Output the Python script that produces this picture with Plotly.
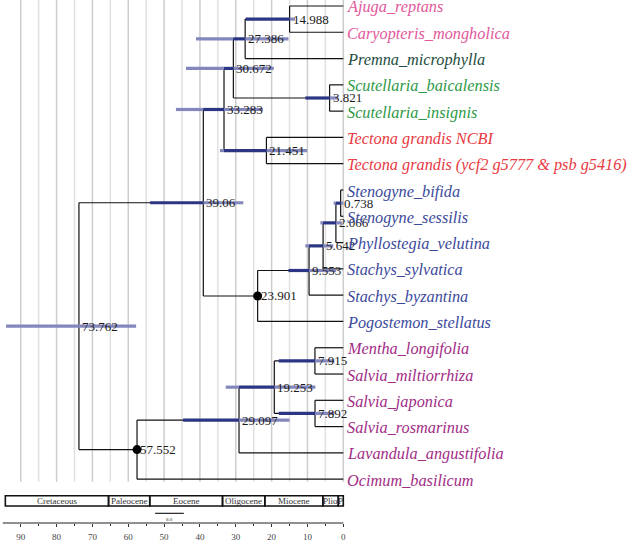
import plotly.graph_objects as go

# ---------------- data ----------------
tips = ["Ajuga_reptans", "Caryopteris_mongholica", "Premna_microphylla",
        "Scutellaria_baicalensis", "Scutellaria_insignis", "Tectona grandis NCBI",
        "Tectona grandis (ycf2 g5777 & psb g5416)", "Stenogyne_bifida",
        "Stenogyne_sessilis", "Phyllostegia_velutina", "Stachys_sylvatica",
        "Stachys_byzantina", "Pogostemon_stellatus", "Mentha_longifolia",
        "Salvia_miltiorrhiza", "Salvia_japonica", "Salvia_rosmarinus",
        "Lavandula_angustifolia", "Ocimum_basilicum"]
PINK, TEAL, GREEN, RED, BLUE, PURPLE = "#e2579b", "#1e4d40", "#2e9a48", "#e8393f", "#3c4a9c", "#a22d85"
tip_colors = [PINK, PINK, TEAL, GREEN, GREEN, RED, RED,
              BLUE, BLUE, BLUE, BLUE, BLUE, BLUE,
              PURPLE, PURPLE, PURPLE, PURPLE, PURPLE, PURPLE]

node_labels = ["14.988", "27.386", "3.821", "30.672", "21.451", "33.283", "0.738", "2.066",
               "5.642", "9.553", "23.901", "39.06", "7.915", "7.892", "19.253", "29.097",
               "57.552", "73.762"]
node_ages = [14.988, 27.386, 3.821, 30.672, 21.451, 33.283, 0.738, 2.066,
             5.642, 9.553, 23.901, 39.06, 7.915, 7.892, 19.253, 29.097,
             57.552, 73.762]
node_children = [("t0", "t1"), ("n0", "t2"), ("t3", "t4"), ("n1", "n2"), ("t5", "t6"),
                 ("n3", "n4"), ("t7", "t8"), ("n6", "t9"), ("n7", "t10"), ("n8", "t11"),
                 ("n9", "t12"), ("n5", "n10"), ("t13", "t14"), ("t15", "t16"),
                 ("n12", "n13"), ("n14", "t17"), ("n15", "t18"), ("n11", "n16")]
hpd_old = [27.2, 41.1, 10.6, 43.9, 34.4, 46.7, 2.7, 6.4, 10.6, 15.3, None, 53.9,
           18.0, 18.0, 32.8, 44.7, None, 94.1]
hpd_young = [13.5, 15.3, 1.5, 19.4, 10.1, 22.4, 0.0, 0.4, 2.8, 2.0, None, 27.9,
             2.5, 2.5, 7.8, 15.0, None, 57.8]
dot_nodes = ["n10", "n16"]

period_names = ["Cretaceous", "Paleocene", "Eocene", "Oligocene", "Miocene", "Plio", "P"]
period_old = [94.3, 65.5, 54.0, 33.7, 21.9, 5.7, 1.4]
period_young = [65.5, 54.0, 33.7, 21.9, 5.7, 1.4, 0.0]

tick_vals = [90, 80, 70, 60, 50, 40, 30, 20, 10, 0]
tick_text = ["90", "80", "70", "60", "50", "40", "30", "20", "10", "0"]
minor_vals = [85, 75, 65, 55, 45, 35, 25, 15, 5]
grid_major = [90, 80, 70, 60, 50, 40, 30, 20, 10, 0]
grid_minor = [85, 75, 65, 55, 45, 35, 25, 15, 5]
scale_bar = [52.5, 44.5]
scale_label = "8.0"

# ---------------- geometry helpers ----------------
TOP_PX, TIP_STEP = 6.0, 26.39
PLOT_H = 525
y_bottom = (PLOT_H - TOP_PX) / TIP_STEP
y_top = -TOP_PX / TIP_STEP

pos = {}
for i in range(len(tips)):
    pos["t%d" % i] = (0.0, float(i))
parent = {}
for k, ch in enumerate(node_children):
    for c in ch:
        parent[c] = k


def node_pos(k):
    key = "n%d" % k
    if key in pos:
        return pos[key]
    ys = []
    for c in node_children[k]:
        if c not in pos:
            node_pos(int(c[1:]))
        ys.append(pos[c][1])
    pos[key] = (node_ages[k], sum(ys) / 2.0)
    return pos[key]


for k in range(len(node_ages)):
    node_pos(k)

fig = go.Figure()

# grid lines
grid_bottom = 18.1
for vals, col in ((grid_minor, "#e0e0e0"), (grid_major, "#cdcdcd")):
    gx, gy = [], []
    for v in vals:
        gx += [v, v, None]
        gy += [y_top, grid_bottom, None]
    fig.add_trace(go.Scatter(x=gx, y=gy, mode="lines", line=dict(color=col, width=1.5),
                             hoverinfo="skip", showlegend=False))

# branches
bx, by = [], []
for k, (c1, c2) in enumerate(node_children):
    nx, ny = pos["n%d" % k]
    y1, y2 = pos[c1][1], pos[c2][1]
    bx += [nx, nx, None]
    by += [y1, y2, None]
    for c in (c1, c2):
        cx, cy = pos[c]
        bx += [nx, cx, None]
        by += [cy, cy, None]
fig.add_trace(go.Scatter(x=bx, y=by, mode="lines", line=dict(color="#111111", width=1.2),
                         hoverinfo="skip", showlegend=False))

# HPD bars: light where over background, dark where over the incoming branch
lx, ly, dx, dy = [], [], [], []
for k in range(len(node_ages)):
    if hpd_old[k] is None:
        continue
    key = "n%d" % k
    ny = pos[key][1]
    old, young = hpd_old[k], hpd_young[k]
    if key in parent:
        pa = node_ages[parent[key]]
        lo, hi = max(young, node_ages[k]), min(old, pa)
    else:
        lo, hi = 0, -1
    if hi > lo:
        dx += [hi, lo, None]
        dy += [ny, ny, None]
        if old > hi:
            lx += [old, hi, None]
            ly += [ny, ny, None]
        if lo > young:
            lx += [lo, young, None]
            ly += [ny, ny, None]
    else:
        lx += [old, young, None]
        ly += [ny, ny, None]
fig.add_trace(go.Scatter(x=lx, y=ly, mode="lines", line=dict(color="#8387bb", width=3.2),
                         hoverinfo="skip", showlegend=False))
fig.add_trace(go.Scatter(x=dx, y=dy, mode="lines", line=dict(color="#2b3584", width=3.2),
                         hoverinfo="skip", showlegend=False))

# calibration dots
fig.add_trace(go.Scatter(x=[pos[d][0] for d in dot_nodes], y=[pos[d][1] for d in dot_nodes],
                         mode="markers", marker=dict(color="black", size=9),
                         hoverinfo="skip", showlegend=False))

annotations = []
# node labels
for k, lab in enumerate(node_labels):
    nx, ny = pos["n%d" % k]
    annotations.append(dict(x=nx, y=ny, xref="x", yref="y", text=lab, showarrow=False,
                            xanchor="left", yanchor="middle", xshift=1,
                            font=dict(family="Liberation Serif", size=13, color="#1a1a1a")))
# tip labels
for i, name in enumerate(tips):
    annotations.append(dict(x=0, y=i, xref="x", yref="y", text=name, showarrow=False,
                            xanchor="left", yanchor="middle", xshift=2, yshift=-1,
                            font=dict(family="Liberation Serif", size=16.3,
                                      color=tip_colors[i], style="italic")))

shapes = []
# geologic timescale
box_top = (PLOT_H - 497.7) / PLOT_H
box_bot = (PLOT_H - 508.0) / PLOT_H
for name, o, yg in zip(period_names, period_old, period_young):
    shapes.append(dict(type="rect", xref="x", yref="paper", x0=o, x1=yg,
                       y0=box_bot, y1=box_top, line=dict(color="#111111", width=1.6)))
    annotations.append(dict(x=(o + yg) / 2, y=(box_top + box_bot) / 2, xref="x", yref="paper",
                            text=name, showarrow=False, xanchor="center", yanchor="middle",
                            font=dict(family="Liberation Serif", size=9, color="#333333")))
# axis line
shapes.append(dict(type="line", xref="x", yref="paper", x0=95, x1=0, y0=0, y1=0,
                   line=dict(color="#222222", width=1.2)))
# scale bar
sb_y = (PLOT_H - 515.3) / PLOT_H
shapes.append(dict(type="line", xref="x", yref="paper", x0=scale_bar[0], x1=scale_bar[1],
                   y0=sb_y, y1=sb_y, line=dict(color="#222222", width=1.2)))
annotations.append(dict(x=sum(scale_bar) / 2, y=(PLOT_H - 521) / PLOT_H, xref="x", yref="paper",
                        text=scale_label, showarrow=False, xanchor="center", yanchor="middle",
                        font=dict(family="Liberation Serif", size=5, color="#333333")))

px_per_ma = 3.584
zero_px = 343.3
fig.update_layout(
    width=633, height=542,
    margin=dict(l=0, r=0, t=0, b=542 - PLOT_H),
    paper_bgcolor="white", plot_bgcolor="white",
    showlegend=False,
    xaxis=dict(range=[zero_px / px_per_ma, -(633 - zero_px) / px_per_ma],
               tickvals=tick_vals, ticktext=tick_text, ticks="outside", ticklen=3,
               tickcolor="#333333", tickwidth=1, ticklabelstandoff=2,
               tickfont=dict(family="Liberation Serif", size=9, color="#444444"),
               showgrid=False, zeroline=False, showline=False,
               minor=dict(tickvals=minor_vals, ticks="outside", ticklen=2, tickcolor="#333333")),
    yaxis=dict(range=[y_bottom, y_top], visible=False, showgrid=False, zeroline=False),
    shapes=shapes, annotations=annotations,
    hovermode=False,
)
fig.write_html("out.html", config={"displayModeBar": False},
               post_script="document.body.style.margin='0';document.body.style.overflow='hidden';")
